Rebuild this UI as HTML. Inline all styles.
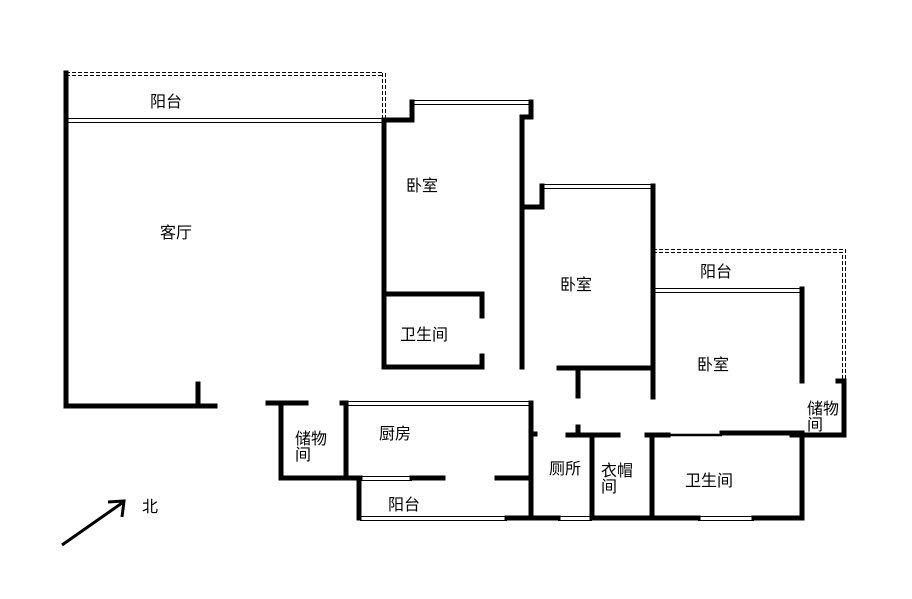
<!DOCTYPE html>
<html><head><meta charset="utf-8"><style>
html,body{margin:0;padding:0;background:#fff;}
svg{display:block;}
text{font-family:"Liberation Sans","Noto Sans CJK SC",sans-serif;font-size:16px;fill:#000;}
</style></head><body>
<svg width="912" height="599" viewBox="0 0 912 599" xmlns="http://www.w3.org/2000/svg">
<g stroke="#000" stroke-width="5" fill="none" stroke-linecap="square">
<path d="M66 73 V406 H215"/>
<path d="M198 384 V406"/>
<path d="M384 120 V367"/>
<path d="M384 120 H412 V102"/>
<path d="M531 102 V117 H522 V367"/>
<path d="M522 207 H542 V186"/>
<path d="M384 294 H482 V316"/>
<path d="M482 356 V367 H384"/>
<path d="M653 186 V397"/>
<path d="M559 368 H653"/>
<path d="M578 368 V396"/>
<path d="M802 289 V381"/>
<path d="M802 435 V518"/>
<path d="M838 381 H844 V435 H792"/>
<path d="M268 403 H306"/>
<path d="M281 403 V478 H346 V403 H342"/>
<path d="M346 478 H360"/>
<path d="M412 478 H443"/>
<path d="M497 478 H531"/>
<path d="M531 403 V518"/>
<path d="M531 434 H535"/>
<path d="M359 478 V518"/>
<path d="M507 518 H558"/>
<path d="M592 518 H698"/>
<path d="M754 518 H802"/>
<path d="M568 435 H618"/>
<path d="M578 427 V435"/>
<path d="M592 435 V518"/>
<path d="M647 435 H668"/>
<path d="M652 435 V518"/>
<path d="M722 433 H802"/>
</g>
<g stroke="#000" stroke-width="2.5" fill="none">
<path d="M668 435 H722"/>
</g>
<g stroke="#000" stroke-width="1" fill="none">
<path d="M66 118.5 H384 M66 122.5 H384"/>
<path d="M412 100.5 H532 M412 104.5 H532"/>
<path d="M542 184.5 H652 M542 188.5 H652"/>
<path d="M653 288.5 H802 M653 292.5 H802"/>
<path d="M348 401.5 H530 M348 405.5 H530"/>
<path d="M360 476.5 H412 M360 480.5 H412"/>
<path d="M360 516.5 H507 M360 520.5 H507"/>
<path d="M558 516.5 H592 M558 520.5 H592"/>
<path d="M698 516.5 H754 M698 520.5 H754"/>
<path d="M529 102 V117 M533 102 V117"/>
</g>
<g stroke="#000" stroke-width="1" fill="none" stroke-dasharray="4,2">
<path d="M66 72.5 H384 M66 75.5 H384"/>
<path d="M382.5 73 V120 M385.5 73 V120"/>
<path d="M653 249.5 H845.5 V381"/>
<path d="M653 252.5 H842.5 V381"/>
</g>
<path d="M62 545 L122 503" stroke="#000" stroke-width="3"/>
<path d="M108 502 L124 501 L122 517" stroke="#000" stroke-width="3" fill="none"/>
<text x="142" y="512">北</text>
<text x="150" y="107">阳台</text>
<text x="160" y="238">客厅</text>
<text x="406" y="191">卧室</text>
<text x="400" y="340">卫生间</text>
<text x="560" y="290">卧室</text>
<text x="700" y="277">阳台</text>
<text x="697" y="370">卧室</text>
<text x="807" y="414">储物</text>
<text x="807" y="430">间</text>
<text x="295" y="444">储物</text>
<text x="295" y="460">间</text>
<text x="379" y="439">厨房</text>
<text x="388" y="510">阳台</text>
<text x="549" y="474">厕所</text>
<text x="601" y="476">衣帽</text>
<text x="601" y="492">间</text>
<text x="685" y="486">卫生间</text>
</svg>
</body></html>
